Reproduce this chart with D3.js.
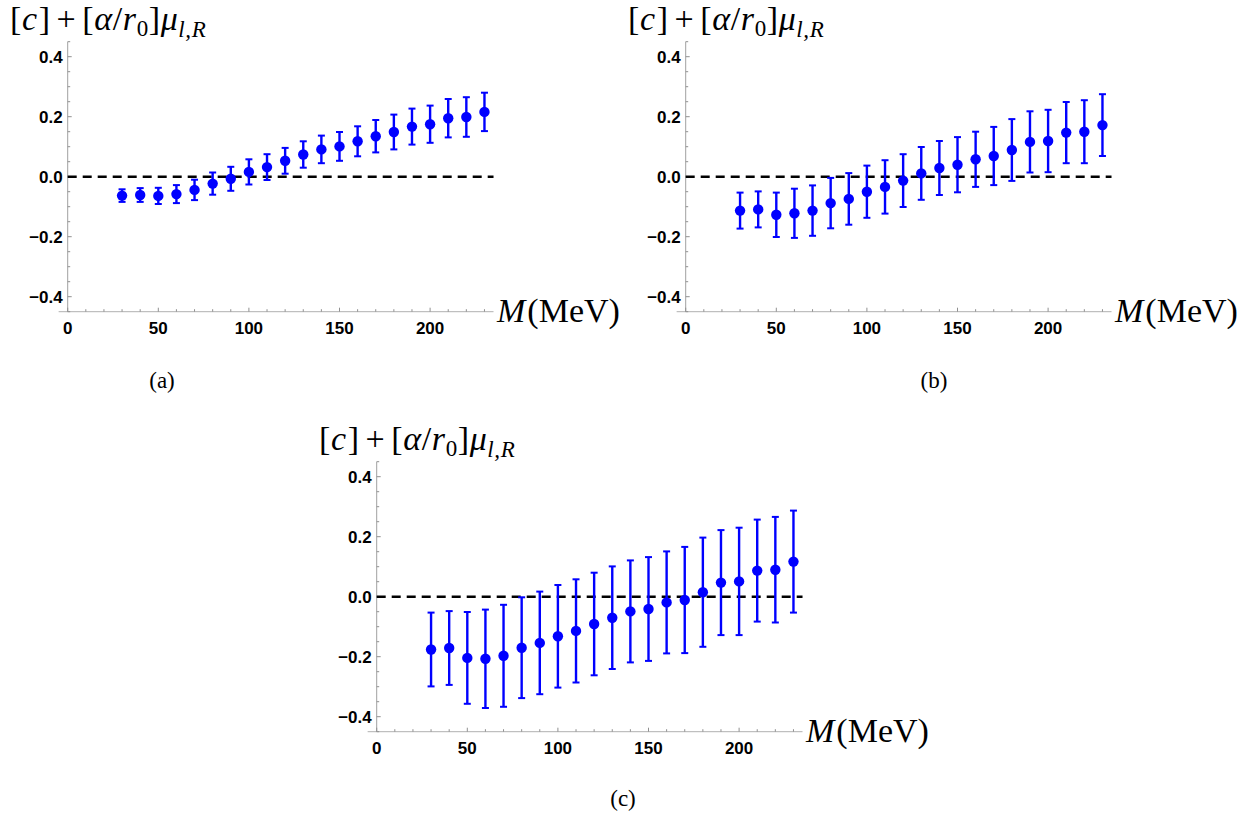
<!DOCTYPE html>
<html>
<head>
<meta charset="utf-8">
<script src="https://cdn.jsdelivr.net/npm/d3@7"></script>
<style>
  body { margin: 0; background: #fff; }
  .tick-label { font-family: "Liberation Sans", Arial, sans-serif; font-weight: bold; font-size: 17px; fill: #000; }
  .math { font-family: "Liberation Serif", "Times New Roman", serif; fill: #000; }
</style>
</head>
<body>
<div id="chart"></div>
<script>
// quark mass values (MeV), same for all three panels
var massMeV = [30, 40, 50, 60, 70, 80, 90, 100, 110, 120, 130, 140, 150, 160, 170, 180, 190, 200, 210, 220, 230];

// panel (a)
var valsA = [-0.063, -0.061, -0.064, -0.058, -0.044, -0.023, -0.007, 0.016, 0.032, 0.053, 0.074, 0.091, 0.101, 0.118, 0.135, 0.149, 0.167, 0.175, 0.195, 0.199, 0.216];
var errsA = [0.021, 0.023, 0.027, 0.030, 0.034, 0.037, 0.040, 0.042, 0.043, 0.043, 0.044, 0.046, 0.048, 0.050, 0.054, 0.058, 0.060, 0.062, 0.064, 0.066, 0.064];

// panel (b)
var valsB = [-0.113, -0.109, -0.127, -0.122, -0.113, -0.088, -0.074, -0.050, -0.034, -0.013, 0.011, 0.029, 0.040, 0.058, 0.069, 0.089, 0.116, 0.119, 0.147, 0.150, 0.172];
var errsB = [0.060, 0.060, 0.074, 0.082, 0.084, 0.084, 0.086, 0.087, 0.089, 0.088, 0.088, 0.090, 0.092, 0.092, 0.097, 0.103, 0.102, 0.104, 0.102, 0.105, 0.103];

// panel (c)
var valsC = [-0.176, -0.171, -0.204, -0.207, -0.197, -0.170, -0.154, -0.132, -0.114, -0.091, -0.070, -0.049, -0.041, -0.019, -0.011, 0.015, 0.047, 0.051, 0.087, 0.090, 0.117];
var errsC = [0.123, 0.123, 0.153, 0.164, 0.170, 0.168, 0.171, 0.171, 0.172, 0.171, 0.171, 0.170, 0.173, 0.170, 0.177, 0.182, 0.175, 0.179, 0.170, 0.176, 0.170];

// tick values
var xTicks = [0, 50, 100, 150, 200];
var xMinor = d3.range(0, 231, 10);
var yTicks = [-0.4, -0.2, 0.0, 0.2, 0.4];
var yMinor = d3.range(-0.45, 0.451, 0.05);

var svgWidth = 1251;
var svgHeight = 816;

var svg = d3.select("#chart")
  .append("svg")
  .attr("width", svgWidth)
  .attr("height", svgHeight)
  .style("background", "#fff");

var pxPerMeV = 1.812;
var plotH = 270; // from -0.45 to 0.45

function drawPanel(x0, top, vals, errs, caption, capX, capY) {
  var g = svg.append("g");

  var xScale = d3.scaleLinear()
    .domain([-5, 235])
    .range([x0 - 5 * pxPerMeV, x0 + 235 * pxPerMeV]);

  var yScale = d3.scaleLinear()
    .domain([-0.45, 0.45])
    .range([top + plotH, top]);

  var axisY = yScale(-0.45);

  // axis lines
  g.append("line")
    .attr("x1", xScale(-5)).attr("x2", xScale(235))
    .attr("y1", axisY).attr("y2", axisY)
    .attr("stroke", "#b0b0b0").attr("stroke-width", 1);
  g.append("line")
    .attr("x1", xScale(0)).attr("x2", xScale(0))
    .attr("y1", yScale(-0.45)).attr("y2", yScale(0.45))
    .attr("stroke", "#a0a0a0").attr("stroke-width", 1);

  // x ticks
  g.selectAll(".xminor")
    .data(xMinor)
    .enter()
    .append("line")
    .attr("x1", d => xScale(d)).attr("x2", d => xScale(d))
    .attr("y1", axisY).attr("y2", d => axisY - (d % 50 === 0 ? 4 : 2.5))
    .attr("stroke", "#909090").attr("stroke-width", 1);

  g.selectAll(".xlab")
    .data(xTicks)
    .enter()
    .append("text")
    .attr("class", "tick-label")
    .attr("x", d => xScale(d))
    .attr("y", axisY + 21.8)
    .attr("text-anchor", "middle")
    .text(d => d);

  // y ticks
  g.selectAll(".yminor")
    .data(yMinor)
    .enter()
    .append("line")
    .attr("x1", xScale(0))
    .attr("x2", d => xScale(0) + (Math.abs(Math.round(d * 100)) % 20 === 0 ? 4 : 2.5))
    .attr("y1", d => yScale(d)).attr("y2", d => yScale(d))
    .attr("stroke", "#909090").attr("stroke-width", 1);

  g.selectAll(".ylab")
    .data(yTicks)
    .enter()
    .append("text")
    .attr("class", "tick-label")
    .attr("x", xScale(0) - 5)
    .attr("y", d => yScale(d))
    .attr("dy", "0.36em")
    .attr("text-anchor", "end")
    .text(d => d3.format(".1f")(d).replace("-", "\u2212"));

  // dashed zero line
  g.append("line")
    .attr("x1", xScale(0)).attr("x2", xScale(235))
    .attr("y1", yScale(0)).attr("y2", yScale(0))
    .attr("stroke", "#000").attr("stroke-width", 2.6)
    .attr("stroke-dasharray", "9,6");

  var pts = massMeV.map((m, i) => ({ m: m, v: vals[i], e: errs[i] }));

  // error bars
  var bars = g.selectAll(".err")
    .data(pts)
    .enter()
    .append("g");
  bars.append("line")
    .attr("x1", d => xScale(d.m)).attr("x2", d => xScale(d.m))
    .attr("y1", d => yScale(d.v - d.e)).attr("y2", d => yScale(d.v + d.e))
    .attr("stroke", "#0000ff").attr("stroke-width", 2.4);
  bars.append("line")
    .attr("x1", d => xScale(d.m) - 3.5).attr("x2", d => xScale(d.m) + 3.5)
    .attr("y1", d => yScale(d.v + d.e)).attr("y2", d => yScale(d.v + d.e))
    .attr("stroke", "#0000ff").attr("stroke-width", 2);
  bars.append("line")
    .attr("x1", d => xScale(d.m) - 3.5).attr("x2", d => xScale(d.m) + 3.5)
    .attr("y1", d => yScale(d.v - d.e)).attr("y2", d => yScale(d.v - d.e))
    .attr("stroke", "#0000ff").attr("stroke-width", 2);

  // points
  g.selectAll(".pt")
    .data(pts)
    .enter()
    .append("circle")
    .attr("cx", d => xScale(d.m))
    .attr("cy", d => yScale(d.v))
    .attr("r", 5.2)
    .attr("fill", "#0000ff");

  // y label: [c] + [alpha/r0] mu_{l,R}
  var title = g.append("text")
    .attr("class", "math")
    .attr("x", xScale(0) - 57.7)
    .attr("y", top - 12)
    .style("font-size", "34px")
    .style("letter-spacing", "0.6px");
  title.append("tspan").text("[");
  title.append("tspan").style("font-style", "italic").text("c");
  title.append("tspan").attr("dx", 1).text("]");
  title.append("tspan").attr("dx", 6).text("+");
  title.append("tspan").attr("dx", 6).text("[");
  title.append("tspan").style("font-style", "italic").text("\u03B1");
  title.append("tspan").text("/");
  title.append("tspan").style("font-style", "italic").text("r");
  title.append("tspan").attr("dy", 6).style("font-size", "23px").text("0");
  title.append("tspan").attr("dy", -6).text("]");
  title.append("tspan").style("font-style", "italic").text("\u03BC");
  title.append("tspan").attr("dy", 7).style("font-size", "23px").style("font-style", "italic").text("l,R");

  // x label: M (MeV)
  var xlab = g.append("text")
    .attr("class", "math")
    .attr("x", xScale(0) + 429.3)
    .attr("y", axisY + 10.6)
    .style("font-size", "34px");
  xlab.append("tspan").style("font-style", "italic").text("M");
  xlab.append("tspan").attr("dx", 2).text("(MeV)");

  // caption
  g.append("text")
    .attr("class", "math")
    .attr("x", capX)
    .attr("y", capY)
    .attr("text-anchor", "middle")
    .style("font-size", "23px")
    .text(caption);
}

drawPanel(67.7, 41.7, valsA, errsA, "(a)", 162, 388);
drawPanel(685.7, 41.7, valsB, errsB, "(b)", 934, 388);
drawPanel(376.7, 461.7, valsC, errsC, "(c)", 623, 806);
</script>
</body>
</html>
